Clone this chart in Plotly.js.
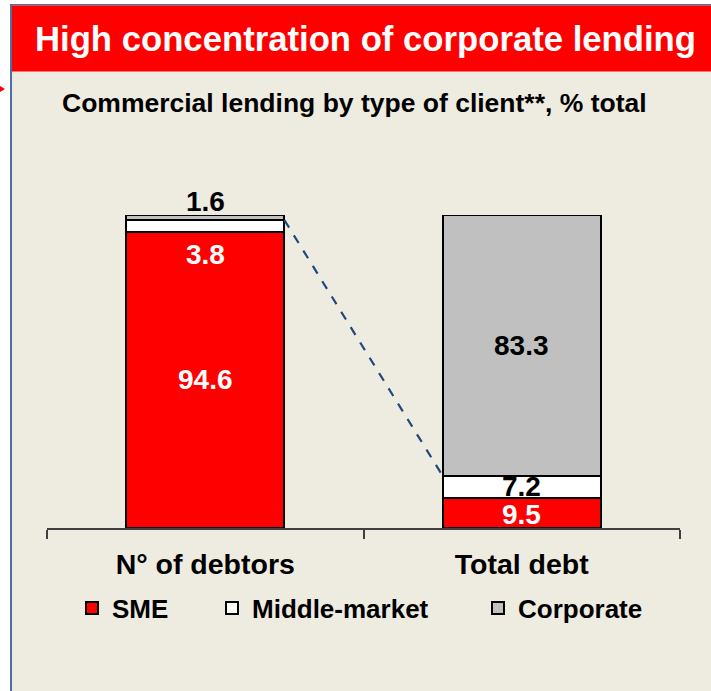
<!DOCTYPE html>
<html>
<head>
<meta charset="utf-8">
<script src="https://cdn.plot.ly/plotly-3.0.1.min.js"></script>
<style>html,body{margin:0;padding:0;background:#fff;}#chart{width:711px;height:691px;}</style>
</head>
<body>
<div id="chart"></div>
<script>
// ---- data ----
const categories = ["N° of debtors", "Total debt"];
const seriesNames = ["SME", "Middle-market", "Corporate"];
const sme = [94.6, 9.5];
const middleMarket = [3.8, 7.2];
const corporate = [1.6, 83.3];
const titleText = "High concentration of corporate lending";
const subtitleText = "Commercial lending by type of client**, % total";

// ---- layout geometry ----
const W = 711, H = 691;
const L = 47, R = 680, T = 215, B = 528;
const pw = R - L, ph = B - T;
const px = v => (v - L) / pw;      // pixel x -> paper x
const py = v => (B - v) / ph;      // pixel y -> paper y
const barWidth = 0.5;
const FONT = "Liberation Sans, Arial, sans-serif";
const colors = ["#FF0000", "#FFFFFF", "#C0C0C0"];

const values = [sme, middleMarket, corporate];
const legendIds = ["legend", "legend2", "legend3"];
const traces = values.map((vals, i) => ({
  type: "bar",
  x: categories,
  y: vals,
  name: seriesNames[i],
  width: barWidth,
  marker: {color: colors[i], line: {color: "#000000", width: 2}},
  legend: legendIds[i],
  hoverinfo: "name+y"
}));

// ---- labels ----
const annotations = [];
const lbl = (x, y, text, color, extra) => annotations.push(Object.assign({
  x: x, y: y, xref: "x", yref: "y", text: "<b>" + text + "</b>", showarrow: false,
  font: {family: FONT, size: 28, color: color}
}, extra || {}));
// bar 1: SME centered, middle-market below its segment, corporate above bar
lbl(categories[0], sme[0] / 2, sme[0].toFixed(1), "#FFFFFF");
lbl(categories[0], sme[0], middleMarket[0].toFixed(1), "#FFFFFF", {yanchor: "top", yshift: -5});
lbl(categories[0], sme[0] + middleMarket[0] + corporate[0], corporate[0].toFixed(1), "#000000", {yanchor: "bottom", yshift: -4});
// bar 2: all centered
lbl(categories[1], sme[1] / 2, sme[1].toFixed(1), "#FFFFFF", {yshift: -1});
lbl(categories[1], sme[1] + middleMarket[1] / 2, middleMarket[1].toFixed(1), "#000000", {yshift: 1});
lbl(categories[1], sme[1] + middleMarket[1] + corporate[1] / 2, corporate[1].toFixed(1), "#000000");
// subtitle
annotations.push({
  xref: "paper", yref: "paper", x: px(354), y: py(103), xanchor: "center", yanchor: "middle",
  text: "<b>" + subtitleText + "</b>", showarrow: false,
  font: {family: FONT, size: 26.5, color: "#000000"}
});

// ---- shapes ----
const shapes = [
  // white left strip & top strip
  {type: "rect", xref: "paper", yref: "paper", x0: px(0), x1: px(10), y0: py(H), y1: py(0), fillcolor: "#FFFFFF", line: {width: 0}, layer: "below"},
  {type: "rect", xref: "paper", yref: "paper", x0: px(0), x1: px(W), y0: py(4), y1: py(0), fillcolor: "#FFFFFF", line: {width: 0}, layer: "below"},
  // blue frame
  {type: "rect", xref: "paper", yref: "paper", x0: px(10), x1: px(12), y0: py(H), y1: py(4), fillcolor: "#4F6FA0", line: {width: 0}, layer: "below"},
  {type: "rect", xref: "paper", yref: "paper", x0: px(10), x1: px(W), y0: py(5.5), y1: py(4), fillcolor: "#4F6FA0", line: {width: 0}, layer: "below"},
  // red title bar
  {type: "rect", xref: "paper", yref: "paper", x0: px(12), x1: px(W), y0: py(71.5), y1: py(5.5), fillcolor: "#FF0000", line: {width: 0}, layer: "below"},
  // small red mark at left edge
  {type: "path", xref: "paper", yref: "paper",
   path: "M" + px(0) + "," + py(86) + " L" + px(5) + "," + py(89) + " L" + px(0) + "," + py(92) + " Z",
   fillcolor: "#FF0000", line: {width: 0}, layer: "below"},
  // dashed connector: top of SME+Middle-market on bar 1 to same level on bar 2
  {type: "line", xref: "x", yref: "y",
   x0: 0 + barWidth / 2, y0: sme[0] + middleMarket[0],
   x1: 1 - barWidth / 2, y1: sme[1] + middleMarket[1],
   line: {color: "#1F497D", width: 2.2, dash: "dash"}, layer: "above"}
];

const legendBase = {
  orientation: "h", xref: "container", yref: "container", yanchor: "middle", xanchor: "left",
  y: 1 - 608 / H, bgcolor: "rgba(0,0,0,0)", borderwidth: 0,
  font: {family: FONT, size: 26, color: "#000000", weight: "bold"}
};

const layout = {
  width: W, height: H,
  margin: {l: L, r: W - R, t: T, b: H - B, pad: 0},
  paper_bgcolor: "#EEECE1",
  plot_bgcolor: "rgba(0,0,0,0)",
  barmode: "stack",
  bargap: 0.5,
  showlegend: true,
  title: {
    text: "<b>" + titleText + "</b>",
    font: {family: FONT, size: 34.7, color: "#FFFFFF"},
    xref: "container", yref: "container",
    x: 365.5 / W, xanchor: "center", y: 1 - 39 / H, yanchor: "middle"
  },
  xaxis: {
    type: "category", range: [-0.5, 1.5],
    showline: true, linecolor: "#404040", linewidth: 2,
    ticks: "outside", tickson: "boundaries", ticklen: 9, tickwidth: 2, tickcolor: "#404040",
    ticklabelstandoff: 10,
    tickfont: {family: FONT, size: 28.5, color: "#000000", weight: "bold"},
    showgrid: false, zeroline: false, fixedrange: true
  },
  yaxis: {range: [0, 100], visible: false, showgrid: false, zeroline: false, fixedrange: true},
  legend: Object.assign({}, legendBase, {x: 72 / W}),
  legend2: Object.assign({}, legendBase, {x: 212 / W}),
  legend3: Object.assign({}, legendBase, {x: 478 / W}),
  annotations: annotations,
  shapes: shapes
};

Plotly.newPlot("chart", traces, layout, {displayModeBar: false, staticPlot: true});
</script>
</body>
</html>
